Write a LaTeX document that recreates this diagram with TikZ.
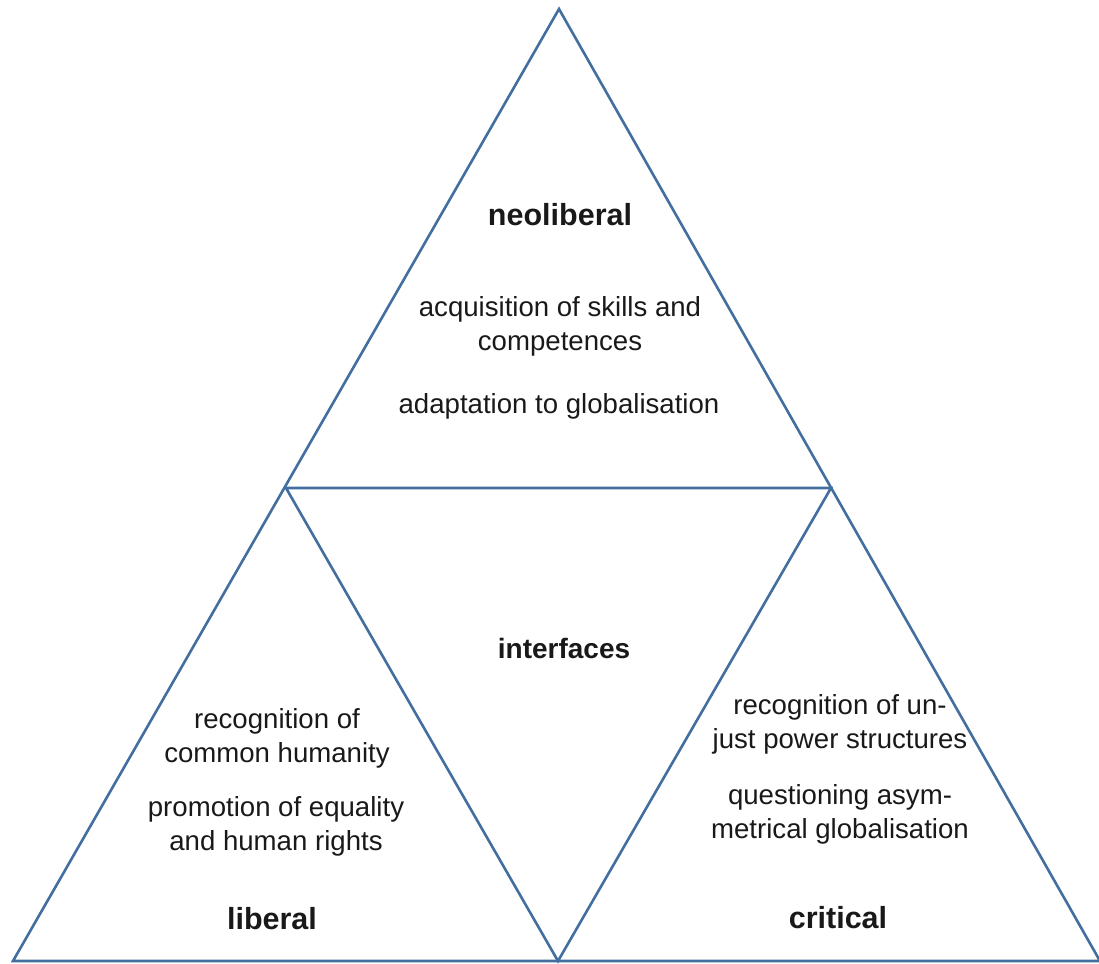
\documentclass[tikz,border=0pt]{standalone}
\usepackage{fontspec}
\setmainfont{Liberation Sans}
\definecolor{edge}{RGB}{66,110,160}
\definecolor{ink}{RGB}{25,25,25}
\begin{document}
\begin{tikzpicture}[x=1pt,y=-1pt,
  side/.style={draw=edge,line width=2.6pt,line join=miter},
  body/.style={anchor=base,align=center,text=ink,inner sep=0pt,
    font=\fontsize{27.6}{33.5}\selectfont},
  head/.style={anchor=base,text=ink,inner sep=0pt,
    font=\fontsize{30.5}{36}\selectfont\bfseries},
  mid/.style={anchor=base,text=ink,inner sep=0pt,
    font=\fontsize{28}{34}\selectfont\bfseries}]
\useasboundingbox (0,0) rectangle (1099,963);
% corners of the big triangle and midpoints of its sides
\coordinate (top) at (559,9);
\coordinate (bl) at (13,961);
\coordinate (br) at (1100,961);
\coordinate (ml) at (286,488);
\coordinate (mr) at (831,488);
\coordinate (mb) at (558,961);
% outline and the inner (upside-down) triangle
\draw[side] (top) -- (bl) -- (br) -- cycle;
\draw[side] (ml) -- (mr) -- (mb) -- cycle;
% neoliberal corner (base anchor = baseline of the last line)
\node[head] (neo) at (560,225) {neoliberal};
\node[body] (neo1) at (560,350) {acquisition of skills and\\competences};
\node[body] (neo2) at (559,413) {adaptation to globalisation};
% centre
\node[mid] (inter) at (564,658) {interfaces};
% liberal corner
\node[body] (lib1) at (277,762) {recognition of\\common humanity};
\node[body] (lib2) at (276,850) {promotion of equality\\and human rights};
\node[head] (lib) at (272,929) {liberal};
% critical corner
\node[body] (cri1) at (840,748) {recognition of un-\\just power structures};
\node[body] (cri2) at (840,838) {questioning asym-\\metrical globalisation};
\node[head] (cri) at (838,928) {critical};
\end{tikzpicture}
\end{document}
